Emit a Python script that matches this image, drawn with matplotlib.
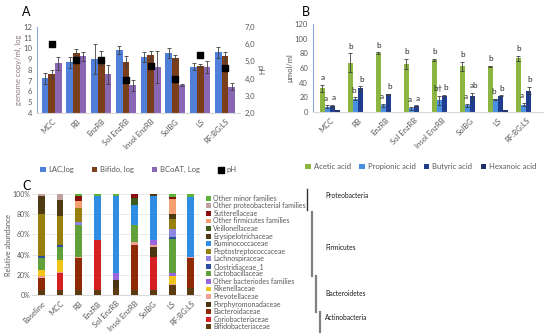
import numpy as np
import matplotlib.pyplot as plt
from matplotlib.lines import Line2D
from matplotlib.ticker import FuncFormatter, PercentFormatter

plt.rcParams['font.family'] = ['Lato', 'DejaVu Sans']

# ---- panel A data ----
cats_a = ['MCC', 'RB', 'EnzRB', 'Sol EnzRB', 'Insol EnzRB', 'SolBG', 'LS', 'RF:BG:LS']
lac = [7.2, 8.7, 9.0, 9.85, 9.2, 9.55, 8.3, 9.65]
lac_err = [0.5, 0.5, 1.4, 0.4, 0.45, 0.45, 0.35, 0.5]
bifido = [7.6, 9.6, 9.15, 8.75, 9.4, 9.15, 8.4, 9.25]
bifido_err = [0.35, 0.35, 0.65, 0.5, 0.4, 0.2, 0.15, 0.45]
bcoat = [8.6, 9.25, 7.6, 6.55, 8.3, 6.6, 8.3, 6.45]
bcoat_err = [0.6, 0.45, 0.9, 0.5, 1.5, 0.1, 0.55, 0.3]
ph = [6.0, 5.05, 5.05, 3.9, 4.7, 3.95, 5.35, 4.6]

# ---- panel B data ----
cats_b = cats_a
acetic = [32, 67, 80, 65, 71, 62, 62, 73]
acetic_err = [5, 13, 1, 7, 1, 6, 0.5, 3]
propionic = [7, 18, 9, 5, 16, 9, 17, 10]
propionic_err = [2, 2, 2, 2, 6, 2, 1, 2]
butyric = [8, 32, 24, 8, 22, 22, 22, 29]
butyric_err = [1.5, 3, 1, 1, 1, 4, 0.5, 5]
hexanoic = [2, 0, 0, 0, 0, 0, 3, 0]
acetic_let = ['a', 'b', 'b', 'b', 'b', 'b', 'b', 'b']
propionic_let = ['a', 'b', 'a', 'a', 'b†', 'a', 'b', 'a']
butyric_let = ['a', 'b', 'b', 'a', 'b', 'ab', 'b', 'b']

# ---- panel C data ----
cats_c = ['Baseline', 'MCC', 'RB', 'EnzRB', 'Sol EnzRB', 'Insol EnzRB', 'SolBG', 'LS', 'RF:BG:LS']
families = ['Bifidobacteriaceae', 'Coriobacteriaceae', 'Bacteroidaceae', 'Porphyromonadaceae',
            'Prevotellaceae', 'Rikenellaceae', 'Other bacteriodes families', 'Lactobacillaceae',
            'Clostridiaceae_1', 'Lachnospiraceae', 'Peptostreptococcaceae', 'Ruminococcaceae',
            'Erysipelotrichaceae', 'Veillonellaceae', 'Other firmicutes families', 'Sutterellaceae',
            'Other proteobacterial families', 'Other minor families']
fam_colors = ['#5b3b0f', '#d42020', '#8e2a05', '#4a3510', '#f0a090', '#f0c419', '#9966dd',
              '#62a03c', '#2b4fa0', '#8f86e0', '#98800e', '#2f8de4', '#4e3b14', '#3c5a1a',
              '#f4a070', '#8a1010', '#c0a0a0', '#5cb33a']
# percent per family (rows) for each sample (cols)
abund = np.array([
    [5, 5, 5, 5, 7, 5, 5, 10, 7],      # Bifidobacteriaceae
    [0, 17, 0, 49, 0, 0, 33, 0, 0],    # Coriobacteriaceae
    [12, 0, 32, 0, 0, 44, 0, 0, 30],   # Bacteroidaceae
    [0, 0, 0, 0, 8, 0, 9, 0, 0],       # Porphyromonadaceae
    [2, 1, 1, 0, 0, 3, 2, 1, 1],       # Prevotellaceae
    [6, 12, 0, 0, 0, 0, 0, 8, 0],      # Rikenellaceae
    [0, 0, 0, 0, 7, 0, 5, 3, 0],       # Other bacteriodes families
    [12, 12, 31, 0, 0, 17, 0, 33, 0],  # Lactobacillaceae
    [1.5, 2, 0, 0, 0, 0, 0, 2, 0],     # Clostridiaceae_1
    [0, 0, 3, 0, 0, 0, 0, 8, 0],       # Lachnospiraceae
    [42, 29, 14, 0, 0, 0, 0, 10, 0],   # Peptostreptococcaceae
    [0, 0, 0, 44, 76, 20, 44, 0, 59],  # Ruminococcaceae
    [17, 16, 0, 0, 0, 0, 2, 5, 0],     # Erysipelotrichaceae
    [0, 0, 0, 0, 0, 7, 0, 0, 0],       # Veillonellaceae
    [0, 0, 7, 0, 0, 0, 0, 15, 0],      # Other firmicutes families
    [0, 0, 5, 0, 0, 4, 0, 2, 0],       # Sutterellaceae
    [2.5, 6, 0, 0, 0, 0, 0, 0, 0],     # Other proteobacterial families
    [0, 0, 2, 2, 2, 0, 0, 3, 3],       # Other minor families
])

gray = '#595959'
fig = plt.figure(figsize=(5.5, 3.36), dpi=100)


def style(ax):
    for s in ['top', 'right']:
        ax.spines[s].set_visible(False)
    ax.spines['left'].set_color('#d9d9d9')
    ax.spines['bottom'].set_color('#d9d9d9')
    ax.tick_params(labelsize=5.5, colors=gray, length=0)


# ---------------- A ----------------
axA = fig.add_axes([0.067, 0.664, 0.369, 0.256])
x = np.arange(len(cats_a))
w = 0.27
ekw = dict(elinewidth=0.6, capsize=1.5, capthick=0.6, ecolor='#404040')
axA.bar(x - w, lac, w, yerr=lac_err, color='#4f7fd8', label='LAC,log', error_kw=ekw)
axA.bar(x, bifido, w, yerr=bifido_err, color='#7a3e1a', label='Bifido, log', error_kw=ekw)
axA.bar(x + w, bcoat, w, yerr=bcoat_err, color='#8a67b5', label='BCoAT, Log', error_kw=ekw)
axA.set_ylim(4, 12)
axA.set_yticks(range(4, 13))
axA.set_xlim(-0.6, len(cats_a) - 0.4)
axA.set_xticks(x)
axA.set_xticklabels(cats_a, rotation=45, ha='right', rotation_mode='anchor')
axA.set_ylabel('genome copy/ml, log', fontsize=5.5, color='#8c7a80', labelpad=1)
style(axA)
axA.spines['left'].set_color('#8ea9db')
axA2 = axA.twinx()
axA2.scatter(x, ph, marker='s', s=14, color='black', label='pH', zorder=5)
axA2.set_ylim(2, 7)
axA2.yaxis.set_major_formatter(FuncFormatter(lambda v, p: f'{v:.1f}'.replace('.', ',')))
axA2.set_ylabel('pH', fontsize=5.5, color=gray, rotation=270, labelpad=6)
for s in ['top', 'left', 'bottom', 'right']:
    axA2.spines[s].set_visible(False)
axA2.tick_params(labelsize=5.5, colors=gray, length=0)
h1, l1 = axA.get_legend_handles_labels()
h2, l2 = axA2.get_legend_handles_labels()
axA.legend(h1 + h2, l1 + l2, loc='center', bbox_to_anchor=(0.5, -0.66), ncol=4,
           frameon=False, fontsize=5.5, handlelength=0.7, handleheight=0.7,
           handletextpad=0.4, columnspacing=2.3, labelcolor=gray)
fig.text(22 / 550, 1 - 12 / 336, 'A', fontsize=9, va='center')

# ---------------- B ----------------
axB = fig.add_axes([0.569, 0.667, 0.418, 0.262])
xb = np.arange(len(cats_b))
wb = 0.18
series = [(acetic, acetic_err, '#8db542', 'Acetic acid', acetic_let, 0.0),
          (propionic, propionic_err, '#4a90e2', 'Propionic acid', propionic_let, -0.05),
          (butyric, butyric_err, '#1f3d8c', 'Butyric acid', butyric_let, 0.04),
          (hexanoic, None, '#1f2f6a', 'Hexanoic acid', None, 0.0)]
for i, (vals, err, col, lab, lets, dx) in enumerate(series):
    pos = xb + (i - 1.5) * wb
    axB.bar(pos, vals, wb, yerr=err, color=col, label=lab, error_kw=ekw)
    if lets is not None:
        for p, v, e, t in zip(pos, vals, err, lets):
            axB.text(p + dx, v + e + 5, t, ha='center', va='bottom', fontsize=5.8,
                     color='#262626')
axB.set_ylim(0, 120)
axB.set_yticks(range(0, 121, 20))
axB.set_xlim(-0.6, len(cats_b) - 0.4)
axB.set_xticks(xb)
axB.set_xticklabels(cats_b, rotation=45, ha='right', rotation_mode='anchor')
axB.set_ylabel('µmol/ml', fontsize=5.5, color=gray, labelpad=1)
style(axB)
axB.spines['left'].set_color('#8ea9db')
axB.legend(loc='center', bbox_to_anchor=(0.47, -0.625), ncol=4, frameon=False,
           fontsize=5.5, handlelength=0.7, handleheight=0.7, handletextpad=0.4,
           columnspacing=1.1, labelcolor=gray)
fig.text(302 / 550, 1 - 12 / 336, 'B', fontsize=9, va='center')

# ---------------- C ----------------
axC = fig.add_axes([0.058, 0.122, 0.306, 0.301])
xc = np.arange(len(cats_c))
bottom = np.zeros(len(cats_c))
handles = []
for fam, col, row in zip(families, fam_colors, abund):
    b = axC.bar(xc, row, 0.36, bottom=bottom, color=col, label=fam, zorder=3)
    handles.append(b)
    bottom += row
axC.set_ylim(0, 100)
axC.set_yticks(range(0, 101, 20))
axC.yaxis.set_major_formatter(PercentFormatter(decimals=0))
axC.set_xlim(-0.5, len(cats_c) - 0.5)
axC.set_xticks(xc)
axC.set_xticklabels(cats_c, rotation=45, ha='right', rotation_mode='anchor')
axC.set_ylabel('Relative abundance', fontsize=5.2, color=gray, labelpad=0.5)
axC.grid(axis='y', color='#e6e6e6', lw=0.6, zorder=0)
style(axC)
axC.tick_params(axis='y', labelsize=5, pad=1)
axC.spines['left'].set_visible(False)
fig.legend(handles[::-1], families[::-1], loc='upper left',
           bbox_to_anchor=(203 / 550, 1 - 192 / 336), frameon=False, fontsize=5,
           handlelength=0.7, handleheight=0.7, handletextpad=0.4,
           labelspacing=0.08, labelcolor=gray, borderaxespad=0)
fig.text(22 / 550, 1 - 186 / 336, 'C', fontsize=9, va='center')

# phylum brackets
phyla = ['Proteobacteria', 'Firmicutes', 'Bacteroidetes', 'Actinobacteria']
br_x = [307, 312, 316, 320]
br_y = [(189, 210), (212, 276), (276, 312), (312, 332)]
txt_y = [196, 247, 294, 317]
for name, bx, (y0, y1), ty in zip(phyla, br_x, br_y, txt_y):
    fig.add_artist(Line2D([bx / 550, bx / 550], [1 - y0 / 336, 1 - y1 / 336],
                          color='#333333' if name == 'Proteobacteria' else '#808080',
                          lw=1.0 if name == 'Proteobacteria' else 1.6))
    fig.text(325 / 550, 1 - ty / 336, name, fontsize=4.8, va='center', color='#1a1a1a')

fig.savefig('out.png', dpi=100)
